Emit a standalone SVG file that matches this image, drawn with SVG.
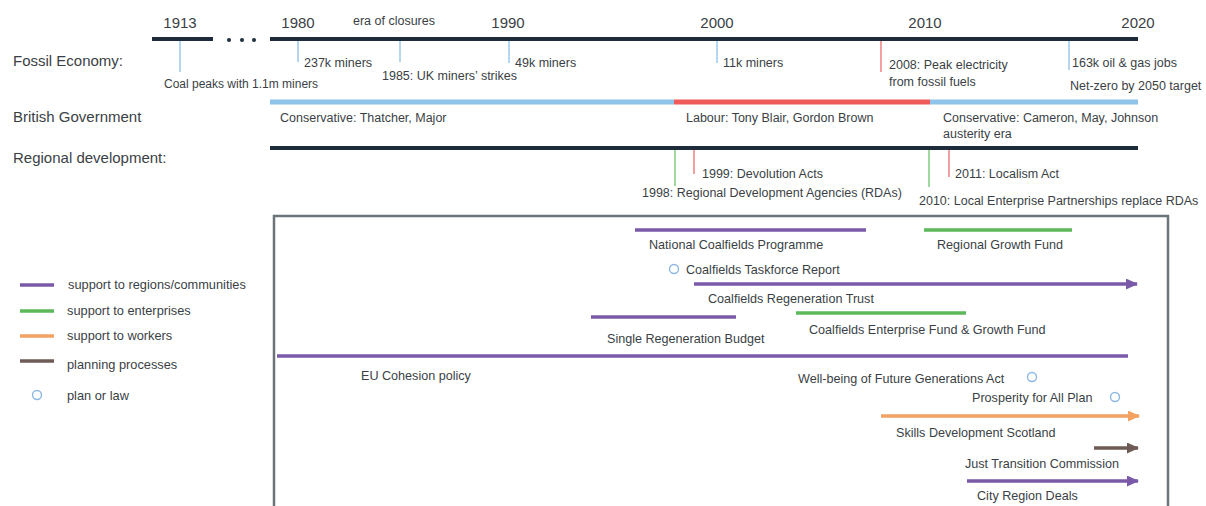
<svg xmlns="http://www.w3.org/2000/svg" width="1206" height="506" viewBox="0 0 1206 506">
<defs>
<style>
text{font-family:"Liberation Sans",Arial,sans-serif;fill:#3a3f45}
.yr{font-size:15px;fill:#3a3f45}
.hd{font-size:15px;fill:#3a3f45}
.lb{font-size:12.5px}
.sm{font-size:12px}
.lg{font-size:12.8px}
.bx{font-size:12.6px}
.axis{stroke:#1d2b3a;stroke-width:4;fill:none}
.tb{stroke:#8fbfe6;stroke-width:1.3}
.tr{stroke:#ef6b6b;stroke-width:1.3}
.tg{stroke:#6cc46a;stroke-width:1.3}
.pu{stroke:#7a5aa8;stroke-width:3.5;fill:none}
.gr{stroke:#5db85a;stroke-width:3.5;fill:none}
.or{stroke:#f3a262;stroke-width:3.5;fill:none}
.br{stroke:#6e5b55;stroke-width:3.5;fill:none}
.circ{fill:#fff;stroke:#8db8e3;stroke-width:1.4}
</style>
<marker id="aPu" markerUnits="userSpaceOnUse" markerWidth="12" markerHeight="11" refX="11" refY="5.5" orient="auto"><path d="M0,0 L12,5.5 L0,11 z" fill="#7a5aa8"/></marker>
<marker id="aOr" markerUnits="userSpaceOnUse" markerWidth="12" markerHeight="11" refX="11" refY="5.5" orient="auto"><path d="M0,0 L12,5.5 L0,11 z" fill="#f3a262"/></marker>
<marker id="aBr" markerUnits="userSpaceOnUse" markerWidth="12" markerHeight="11" refX="11" refY="5.5" orient="auto"><path d="M0,0 L12,5.5 L0,11 z" fill="#6e5b55"/></marker>
</defs>
<rect width="1206" height="506" fill="#fff"/>

<g id="row-labels">
<text class="hd" x="13" y="66">Fossil Economy:</text>
<text class="hd" x="13" y="122">British Government</text>
<text class="hd" x="13" y="163">Regional development:</text>
</g>

<g id="years">
<text class="yr" x="180" y="28" text-anchor="middle">1913</text>
<text class="yr" x="298" y="28" text-anchor="middle">1980</text>
<text class="yr" x="508" y="28" text-anchor="middle">1990</text>
<text class="yr" x="717" y="28" text-anchor="middle">2000</text>
<text class="yr" x="925" y="28" text-anchor="middle">2010</text>
<text class="yr" x="1138" y="28" text-anchor="middle">2020</text>
<text class="lb" x="353" y="25">era of closures</text>
</g>

<g id="connectors">
<line class="axis" x1="152" y1="39" x2="213" y2="39"/>
<circle cx="229" cy="40" r="2" fill="#1d2b3a"/>
<circle cx="242" cy="40" r="2" fill="#1d2b3a"/>
<circle cx="254" cy="40" r="2" fill="#1d2b3a"/>
<line class="axis" x1="270" y1="39" x2="1138" y2="39"/>
<line class="tb" x1="180" y1="41" x2="180" y2="72"/>
<line class="tb" x1="298" y1="41" x2="298" y2="62"/>
<line class="tb" x1="400" y1="41" x2="400" y2="62"/>
<line class="tb" x1="509" y1="41" x2="509" y2="63"/>
<line class="tb" x1="717" y1="41" x2="717" y2="63"/>
<line class="tr" x1="881" y1="41" x2="881" y2="72"/>
<line class="tb" x1="1069" y1="41" x2="1069" y2="70"/>
<line x1="270" y1="102" x2="674" y2="102" stroke="#8fc3ea" stroke-width="5"/>
<line x1="674" y1="102" x2="930" y2="102" stroke="#ef5b5b" stroke-width="5"/>
<line x1="930" y1="102" x2="1138" y2="102" stroke="#8fc3ea" stroke-width="5"/>
<line class="axis" x1="270" y1="148" x2="1138" y2="148"/>
<line class="tg" x1="675" y1="150" x2="675" y2="186"/>
<line class="tr" x1="694" y1="150" x2="694" y2="174"/>
<line class="tg" x1="929" y1="150" x2="929" y2="187"/>
<line class="tr" x1="949" y1="150" x2="949" y2="177"/>
</g>

<g id="fossil-events">
<text class="sm" x="164" y="88">Coal peaks with 1.1m miners</text>
<text class="lb" x="304" y="67">237k miners</text>
<text class="lb" x="382" y="80">1985: UK miners’ strikes</text>
<text class="lb" x="515" y="67">49k miners</text>
<text class="lb" x="723" y="67">11k miners</text>
<text class="lb" x="889" y="69">2008: Peak electricity</text>
<text class="lb" x="889" y="86">from fossil fuels</text>
<text class="lb" x="1072" y="67">163k oil &amp; gas jobs</text>
<text class="lb" x="1070" y="90">Net-zero by 2050 target</text>
</g>

<g id="government">
<text class="lb" x="280" y="122">Conservative: Thatcher, Major</text>
<text class="lb" x="686" y="122">Labour: Tony Blair, Gordon Brown</text>
<text class="lb" x="943" y="122">Conservative: Cameron, May, Johnson</text>
<text class="lb" x="943" y="138">austerity era</text>
</g>

<g id="regional-events">
<text class="lb" x="702" y="178">1999: Devolution Acts</text>
<text class="lb" x="642" y="197">1998: Regional Development Agencies (RDAs)</text>
<text class="lb" x="955" y="178">2011: Localism Act</text>
<text class="lb" x="919" y="205">2010: Local Enterprise Partnerships replace RDAs</text>
</g>

<g id="legend">
<line class="pu" x1="20" y1="285" x2="54" y2="285"/>
<text class="lg" x="68" y="289">support to regions/communities</text>
<line class="gr" x1="20" y1="311" x2="54" y2="311"/>
<text class="lg" x="67" y="315">support to enterprises</text>
<line class="or" x1="20" y1="336" x2="54" y2="336"/>
<text class="lg" x="67" y="340">support to workers</text>
<line class="br" x1="20" y1="361" x2="54" y2="361"/>
<text class="lg" x="67" y="369">planning processes</text>
<circle class="circ" cx="37" cy="395" r="4.5"/>
<text class="lg" x="67" y="400">plan or law</text>
</g>

<g id="policy-box">
<path d="M274,507 L274,216 L1168,216 L1168,507" fill="none" stroke="#6b7479" stroke-width="2.5"/>
</g>

<g id="national-coalfields-programme">
<line class="pu" x1="635" y1="230" x2="866" y2="230"/>
<text class="bx" x="649" y="249">National Coalfields Programme</text>
</g>
<g id="regional-growth-fund">
<line class="gr" x1="924" y1="230" x2="1072" y2="230"/>
<text class="bx" x="937" y="249">Regional Growth Fund</text>
</g>
<g id="coalfields-taskforce-report">
<circle class="circ" cx="674" cy="269" r="4.5"/>
<text class="bx" x="686" y="274">Coalfields Taskforce Report</text>
</g>
<g id="coalfields-regeneration-trust">
<line class="pu" x1="694" y1="284" x2="1137" y2="284" marker-end="url(#aPu)"/>
<text class="bx" x="708" y="303">Coalfields Regeneration Trust</text>
</g>
<g id="single-regeneration-budget">
<line class="pu" x1="591" y1="317" x2="736" y2="317"/>
<text class="bx" x="607" y="343">Single Regeneration Budget</text>
</g>
<g id="coalfields-enterprise-fund">
<line class="gr" x1="796" y1="313" x2="966" y2="313"/>
<text class="bx" x="809" y="334">Coalfields Enterprise Fund &amp; Growth Fund</text>
</g>
<g id="eu-cohesion-policy">
<line class="pu" x1="277" y1="356" x2="1128" y2="356"/>
<text class="bx" x="361" y="380">EU Cohesion policy</text>
</g>
<g id="wellbeing-act">
<text class="bx" x="798" y="383">Well-being of Future Generations Act</text>
<circle class="circ" cx="1032" cy="377" r="4.5"/>
</g>
<g id="prosperity-for-all">
<text class="bx" x="972" y="402">Prosperity for All Plan</text>
<circle class="circ" cx="1115" cy="397" r="4.5"/>
</g>
<g id="skills-development-scotland">
<line class="or" x1="881" y1="416" x2="1139" y2="416" marker-end="url(#aOr)"/>
<text class="bx" x="896" y="437">Skills Development Scotland</text>
</g>
<g id="just-transition-commission">
<line class="br" x1="1094" y1="448" x2="1138" y2="448" marker-end="url(#aBr)"/>
<text class="bx" x="965" y="468">Just Transition Commission</text>
</g>
<g id="city-region-deals">
<line class="pu" x1="967" y1="481" x2="1138" y2="481" marker-end="url(#aPu)"/>
<text class="bx" x="977" y="500">City Region Deals</text>
</g>
</svg>
